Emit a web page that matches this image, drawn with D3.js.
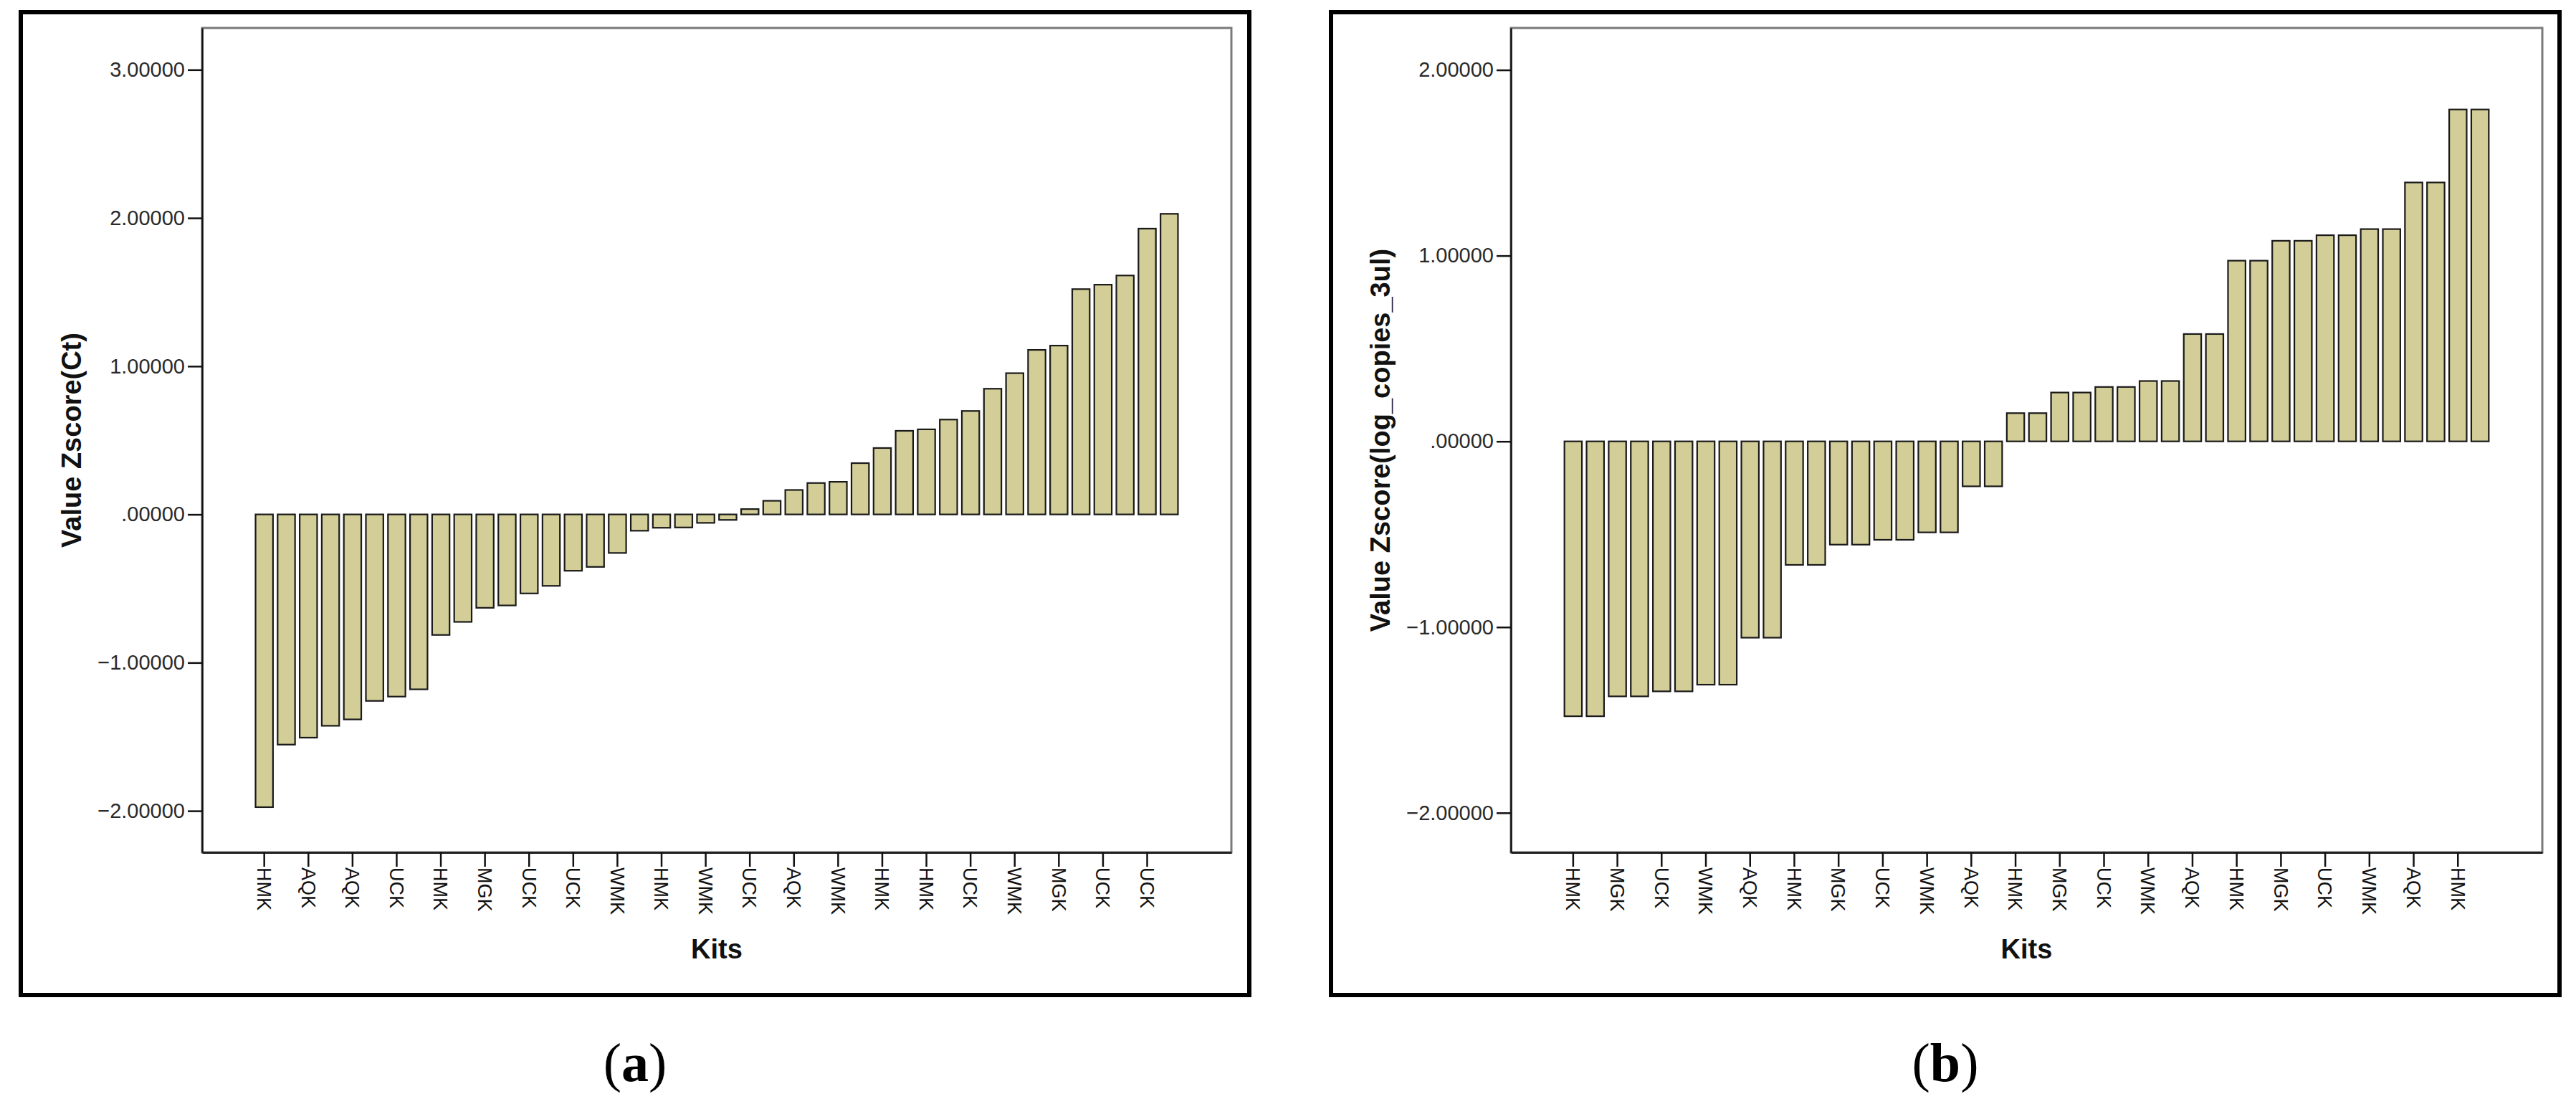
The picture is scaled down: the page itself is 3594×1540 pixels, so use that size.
<!DOCTYPE html>
<html>
<head>
<meta charset="utf-8">
<script src="https://cdn.jsdelivr.net/npm/d3@7"></script>
<style>
  html, body { margin: 0; padding: 0; background: #ffffff; }
  svg { display: block; }
</style>
</head>
<body>
<svg id="chart" width="3594" height="1540"></svg>
<script>
// ---------- DATA ----------
// Panel (a): Z-score of Ct, one bar per case, sorted ascending
const valuesA = [-1.975, -1.553, -1.506, -1.426, -1.383, -1.258, -1.229, -1.18,
  -0.813, -0.725, -0.63, -0.614, -0.533, -0.482, -0.38, -0.354, -0.26, -0.11,
  -0.09, -0.088, -0.057, -0.037, 0.036, 0.092, 0.165, 0.212, 0.22, 0.346,
  0.448, 0.564, 0.574, 0.64, 0.698, 0.848, 0.953, 1.11, 1.139, 1.52, 1.55,
  1.612, 1.928, 2.028];
// Kit labels shown on every second bar of panel (a)
const tickLabelsA = ["HMK", "AQK", "AQK", "UCK", "HMK", "MGK", "UCK", "UCK", "WMK", "HMK",
  "WMK", "UCK", "AQK", "WMK", "HMK", "HMK", "UCK", "WMK", "MGK", "UCK", "UCK"];
const yTicksA = [-2, -1, 0, 1, 2, 3];

// Panel (b): Z-score of log copies per 3 ul
const valuesB = [-1.48, -1.48, -1.373, -1.373, -1.346, -1.346, -1.31, -1.31,
  -1.057, -1.057, -0.665, -0.665, -0.556, -0.556, -0.53, -0.53, -0.49, -0.49,
  -0.242, -0.242, 0.152, 0.152, 0.263, 0.263, 0.293, 0.293, 0.325, 0.325,
  0.578, 0.578, 0.973, 0.973, 1.08, 1.08, 1.11, 1.11, 1.143, 1.143,
  1.394, 1.394, 1.787, 1.787];
const tickLabelsB = ["HMK", "MGK", "UCK", "WMK", "AQK", "HMK", "MGK", "UCK", "WMK", "AQK",
  "HMK", "MGK", "UCK", "WMK", "AQK", "HMK", "MGK", "UCK", "WMK", "AQK", "HMK"];
const yTicksB = [-2, -1, 0, 1, 2];

const yTitleA = "Value Zscore(Ct)";
const yTitleB = "Value Zscore(log_copies_3ul)";
const xTitle = "Kits";
const panelLetters = ["a", "b"];

// ---------- DRAWING ----------
const svg = d3.select("#chart");
const SANS = "'Liberation Sans', Arial, Helvetica, sans-serif";
const SERIF = "'Liberation Serif', 'Times New Roman', serif";
const BAR_FILL = "#d3ce97";

const fmt = v => {
  const s = d3.format(".5f")(v);
  return s.replace(/^0\./, ".").replace(/^-0\./, "-.");
};

function drawPanel(opt) {
  const g = svg.append("g");
  const { frameX, plotL, plotR, plotT, plotB, values, tickLabels, yTicks, yDomain, yTitle, letter } = opt;

  // outer frame
  g.append("rect")
    .attr("x", frameX).attr("y", 17)
    .attr("width", 1714).attr("height", 1371)
    .attr("fill", "none").attr("stroke", "#000").attr("stroke-width", 6);

  const x = d3.scaleBand()
    .domain(d3.range(values.length))
    .range([plotL, plotR])
    .paddingInner(0.21)
    .paddingOuter(2.42)
    .align(0.5);

  const y = d3.scaleLinear().domain(yDomain).range([plotB, plotT]);

  // plot box
  g.append("rect")
    .attr("x", plotL).attr("y", plotT)
    .attr("width", plotR - plotL).attr("height", plotB - plotT)
    .attr("fill", "#fff").attr("stroke", "#7a7a7a").attr("stroke-width", 3);

  // bars
  g.append("g").selectAll("rect")
    .data(values)
    .join("rect")
    .attr("x", (d, i) => x(i))
    .attr("width", x.bandwidth())
    .attr("y", d => y(Math.max(0, d)))
    .attr("height", d => Math.abs(y(d) - y(0)))
    .attr("fill", BAR_FILL)
    .attr("stroke", "#1a1a1a")
    .attr("stroke-width", 2.2);

  // y axis
  const yAxis = g.append("g")
    .attr("transform", `translate(${plotL},0)`)
    .call(d3.axisLeft(y).tickValues(yTicks).tickFormat(fmt).tickSize(20).tickPadding(4).tickSizeOuter(0));
  yAxis.select(".domain").attr("stroke", "#111").attr("stroke-width", 2.5);
  yAxis.selectAll(".tick line").attr("stroke", "#111").attr("stroke-width", 2.5);
  yAxis.selectAll(".tick text")
    .attr("font-family", SANS).attr("font-size", 29).attr("fill", "#2a2a2a");

  // x axis
  const tickIdx = d3.range(0, values.length - 1, 2);
  const xAxis = g.append("g")
    .attr("transform", `translate(0,${plotB})`)
    .call(d3.axisBottom(x).tickValues(tickIdx)
      .tickFormat(i => tickLabels[i / 2]).tickSize(20).tickSizeOuter(0));
  xAxis.select(".domain").attr("stroke", "#222").attr("stroke-width", 3);
  xAxis.selectAll(".tick line").attr("stroke", "#111").attr("stroke-width", 2.5);
  xAxis.selectAll(".tick text")
    .attr("font-family", SANS).attr("font-size", 27).attr("fill", "#111")
    .attr("transform", "rotate(90)")
    .attr("x", 21).attr("y", 0).attr("dy", "0.36em")
    .style("text-anchor", "start");

  // y title
  g.append("text")
    .attr("transform", `translate(${plotL - 182},${(plotT + plotB) / 2}) rotate(-90)`)
    .attr("text-anchor", "middle")
    .attr("dominant-baseline", "central")
    .attr("font-family", SANS).attr("font-weight", "bold").attr("font-size", 38)
    .attr("fill", "#111")
    .text(yTitle);

  // x title
  g.append("text")
    .attr("x", (plotL + plotR) / 2).attr("y", 1324)
    .attr("text-anchor", "middle")
    .attr("dominant-baseline", "central")
    .attr("font-family", SANS).attr("font-weight", "bold").attr("font-size", 38)
    .attr("fill", "#111")
    .text(xTitle);

  // panel letter
  const t = g.append("text")
    .attr("x", frameX + 857).attr("y", 1508)
    .attr("text-anchor", "middle")
    .attr("font-family", SERIF).attr("font-size", 76).attr("fill", "#000");
  t.append("tspan").text("(");
  t.append("tspan").attr("font-weight", "bold").text(letter);
  t.append("tspan").text(")");
}

drawPanel({
  frameX: 29, plotL: 282, plotR: 1718, plotT: 39, plotB: 1189,
  values: valuesA, tickLabels: tickLabelsA, yTicks: yTicksA,
  yDomain: [-2.28, 3.282], yTitle: yTitleA, letter: panelLetters[0]
});
drawPanel({
  frameX: 1857, plotL: 2108, plotR: 3547, plotT: 39, plotB: 1189,
  values: valuesB, tickLabels: tickLabelsB, yTicks: yTicksB,
  yDomain: [-2.213, 2.226], yTitle: yTitleB, letter: panelLetters[1]
});
</script>
</body>
</html>
